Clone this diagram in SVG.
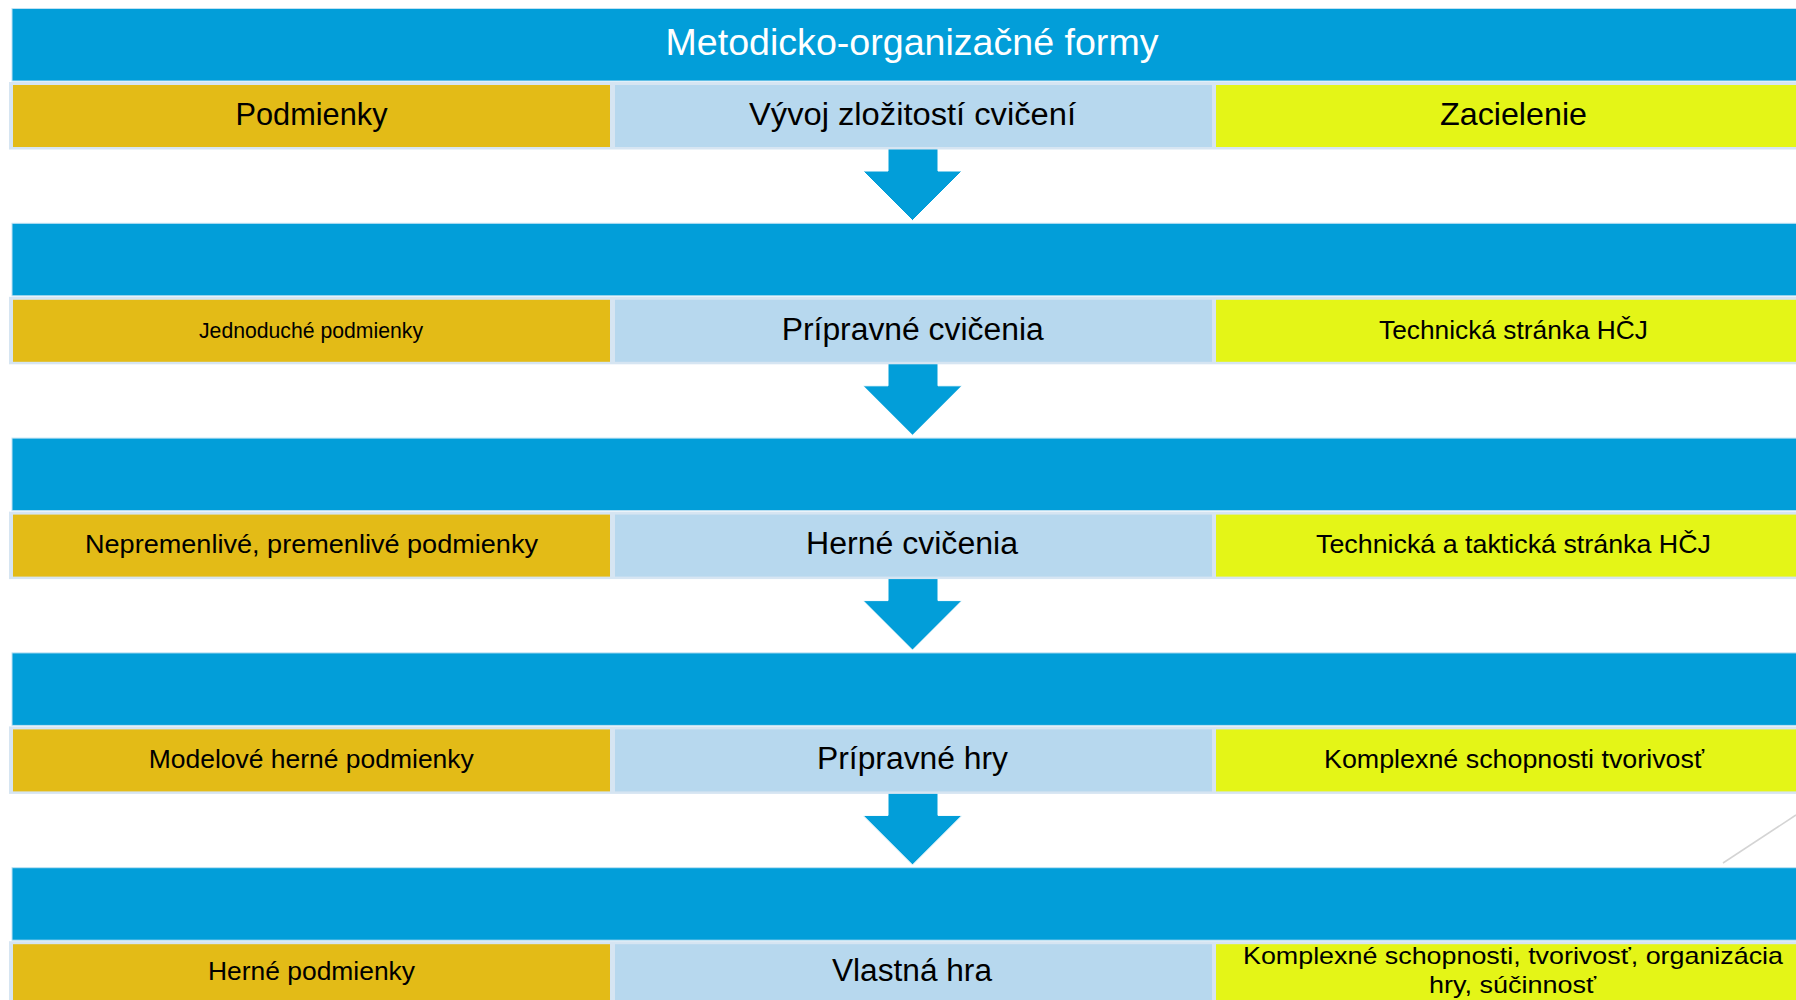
<svg xmlns="http://www.w3.org/2000/svg" width="1796" height="1000" viewBox="0 0 1796 1000">
<style>
.bar{fill:#029ED9;stroke:#BFE1F3;stroke-width:1}
.row{fill:#D6E5F2}
.c1{fill:#E3BB17}
.c2{fill:#B7D8EE}
.c3{fill:#E4F517}
.arrow{fill:#029ED9;stroke:#FFFFFF;stroke-width:1}
text{font-family:"Liberation Sans",Arial,sans-serif;fill:#000;text-anchor:middle}
.title{fill:#FFFFFF;font-size:37px}
.hd{font-size:32px}
.mid{font-size:31px}
.side{font-size:25px}
.small{font-size:22px}
.two{font-size:24px}
</style>
<rect width="1796" height="1000" fill="#FFFFFF"/>

<g id="connectors">
<path class="arrow" d="M888,148 H938 V171 H962 L912.5,220.5 L863,171 H888 Z"/>
<path class="arrow" d="M888,362.8 H938 V385.8 H962 L912.5,435.3 L863,385.8 H888 Z"/>
<path class="arrow" d="M888,577.6 H938 V600.6 H962 L912.5,650.1 L863,600.6 H888 Z"/>
<path class="arrow" d="M888,792.4 H938 V815.4 H962 L912.5,864.9 L863,815.4 H888 Z"/>
</g>

<g id="title-bar">
<rect class="bar" x="12" y="8.5" width="1800" height="72.5"/>
<text class="title" x="912" y="55" textLength="493" lengthAdjust="spacingAndGlyphs">Metodicko-organizačné formy</text>
</g>
<g id="header-row">
<rect class="row" x="9" y="82" width="1800" height="67.5"/>
<rect class="c1" x="13" y="85" width="597" height="62"/>
<rect class="c2" x="615" y="85" width="597" height="62"/>
<rect class="c3" x="1216" y="85" width="600" height="62"/>
<text class="hd" x="311.5" y="124.5" textLength="152" lengthAdjust="spacingAndGlyphs">Podmienky</text>
<text class="mid" x="912.5" y="124.5" textLength="327" lengthAdjust="spacingAndGlyphs">Vývoj zložitostí cvičení</text>
<text class="hd" x="1513.5" y="124.5" textLength="147" lengthAdjust="spacingAndGlyphs">Zacielenie</text>
</g>

<g id="bar-2">
<rect class="bar" x="12" y="223.3" width="1800" height="72.5"/>
</g>
<g id="row-2">
<rect class="row" x="9" y="296.8" width="1800" height="67.5"/>
<rect class="c1" x="13" y="299.8" width="597" height="62"/>
<rect class="c2" x="615" y="299.8" width="597" height="62"/>
<rect class="c3" x="1216" y="299.8" width="600" height="62"/>
<text class="small" x="311" y="337.5" textLength="224" lengthAdjust="spacingAndGlyphs">Jednoduché podmienky</text>
<text class="mid" x="912.7" y="339.5" textLength="262" lengthAdjust="spacingAndGlyphs">Prípravné cvičenia</text>
<text class="side" x="1513.5" y="338.5" textLength="269" lengthAdjust="spacingAndGlyphs">Technická stránka HČJ</text>
</g>

<g id="bar-3">
<rect class="bar" x="12" y="438.1" width="1800" height="72.5"/>
</g>
<g id="row-3">
<rect class="row" x="9" y="511.6" width="1800" height="67.5"/>
<rect class="c1" x="13" y="514.6" width="597" height="62"/>
<rect class="c2" x="615" y="514.6" width="597" height="62"/>
<rect class="c3" x="1216" y="514.6" width="600" height="62"/>
<text class="side" x="311.5" y="553" textLength="453" lengthAdjust="spacingAndGlyphs">Nepremenlivé, premenlivé podmienky</text>
<text class="mid" x="912" y="554" textLength="212" lengthAdjust="spacingAndGlyphs">Herné cvičenia</text>
<text class="side" x="1513.5" y="553" textLength="395" lengthAdjust="spacingAndGlyphs">Technická a taktická stránka HČJ</text>
</g>

<g id="bar-4">
<rect class="bar" x="12" y="652.9" width="1800" height="72.5"/>
</g>
<g id="row-4">
<rect class="row" x="9" y="726.4" width="1800" height="67.5"/>
<rect class="c1" x="13" y="729.4" width="597" height="62"/>
<rect class="c2" x="615" y="729.4" width="597" height="62"/>
<rect class="c3" x="1216" y="729.4" width="600" height="62"/>
<text class="side" x="311.3" y="767.5" textLength="325" lengthAdjust="spacingAndGlyphs">Modelové herné podmienky</text>
<text class="mid" x="912.5" y="768.5" textLength="191" lengthAdjust="spacingAndGlyphs">Prípravné hry</text>
<text class="side" x="1514" y="767.5" textLength="380" lengthAdjust="spacingAndGlyphs">Komplexné schopnosti tvorivosť</text>
</g>

<line x1="1796" y1="815" x2="1723" y2="863" stroke="#D4D4D4" stroke-width="1.5"/>

<g id="bar-5">
<rect class="bar" x="12" y="867.7" width="1800" height="72.5"/>
</g>
<g id="row-5">
<rect class="row" x="9" y="941.2" width="1800" height="67.5"/>
<rect class="c1" x="13" y="944.2" width="597" height="62"/>
<rect class="c2" x="615" y="944.2" width="597" height="62"/>
<rect class="c3" x="1216" y="944.2" width="600" height="62"/>
<text class="side" x="311.5" y="979.5" textLength="207" lengthAdjust="spacingAndGlyphs">Herné podmienky</text>
<text class="mid" x="912" y="980.5" textLength="160" lengthAdjust="spacingAndGlyphs">Vlastná hra</text>
<text class="two" x="1513" y="964" textLength="540" lengthAdjust="spacingAndGlyphs">Komplexné schopnosti, tvorivosť, organizácia</text>
<text class="two" x="1512.5" y="993" textLength="167" lengthAdjust="spacingAndGlyphs">hry, súčinnosť</text>
</g>
</svg>
